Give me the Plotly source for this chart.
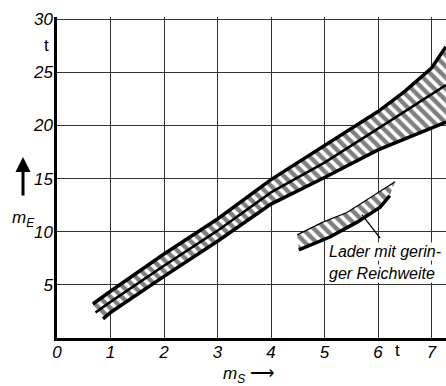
import plotly.graph_objects as go

# ---- data ----
x_ticks = [0, 1, 2, 3, 4, 5, 6, 7]
x_tick_text = ["0", "1", "2", "3", "4", "5", "6", "7"]
y_ticks = [5, 10, 15, 20, 25, 30]
y_tick_text = ["5", "10", "15", "20", "25", "30"]

upper_x = [0.67, 1.0, 2.0, 3.0, 4.0, 5.0, 6.0, 6.5, 7.0, 7.27]
upper_y = [3.2, 4.4, 7.9, 11.2, 14.9, 18.1, 21.3, 23.2, 25.4, 27.4]
middle_x = [0.72, 1.0, 2.0, 3.0, 4.0, 5.0, 6.0, 7.0, 7.27]
middle_y = [2.4, 3.4, 6.8, 10.1, 13.7, 16.5, 19.7, 22.9, 23.8]
lower_x = [0.86, 1.0, 2.0, 3.0, 4.0, 5.0, 6.0, 7.0, 7.27]
lower_y = [1.8, 2.4, 5.8, 9.1, 12.6, 15.1, 17.7, 19.7, 20.3]

small_upper_x = [4.49, 4.97, 5.42, 5.79, 6.05, 6.32]
small_upper_y = [9.7, 10.9, 11.8, 13.0, 13.8, 14.7]
small_lower_x = [4.52, 5.10, 5.61, 6.04, 6.22]
small_lower_y = [8.3, 9.5, 10.9, 12.3, 13.4]

pointer_x = [5.70, 6.04]
pointer_y = [11.6, 9.4]

label_lines = ["Lader mit gerin-", "ger Reichweite"]

FONT = "Liberation Sans, Arial, sans-serif"

hatch = dict(shape="\\", size=8, solidity=0.55, fgcolor="black", bgcolor="white")

# plot-area geometry in pixels (for placing outside labels)
L, T, PW, PH = 57, 17, 389, 321


def px(xp):
    return (xp - L) / PW


def py(yp):
    return (T + PH - yp) / PH


def it(s):
    return "<i>" + s + "</i>"


fig = go.Figure()
fig.add_trace(go.Scatter(x=lower_x, y=lower_y, mode="lines",
                         line=dict(color="black", width=3.5)))
fig.add_trace(go.Scatter(x=middle_x, y=middle_y, mode="lines", fill="tonexty",
                         fillpattern=hatch, fillcolor="white",
                         line=dict(color="black", width=2.5)))
fig.add_trace(go.Scatter(x=upper_x, y=upper_y, mode="lines", fill="tonexty",
                         fillpattern=hatch, fillcolor="white",
                         line=dict(color="black", width=3.5)))
fig.add_trace(go.Scatter(x=small_lower_x, y=small_lower_y, mode="lines",
                         line=dict(color="black", width=3.5)))
fig.add_trace(go.Scatter(x=small_upper_x, y=small_upper_y, mode="lines", fill="tonexty",
                         fillpattern=hatch, fillcolor="white",
                         line=dict(color="black", width=1.2)))
fig.add_trace(go.Scatter(x=pointer_x, y=pointer_y, mode="lines",
                         line=dict(color="black", width=1.3)))

tfont = dict(family=FONT, size=17, color="black")
annotations = [
    dict(x=5.07, y=8.1, xref="x", yref="y", text=it(label_lines[0]), showarrow=False,
         xanchor="left", yanchor="middle", bgcolor="white", borderpad=0,
         font=dict(family=FONT, size=16, color="black")),
    dict(x=5.07, y=6.1, xref="x", yref="y", text=it(label_lines[1]), showarrow=False,
         xanchor="left", yanchor="middle", bgcolor="white", borderpad=0,
         font=dict(family=FONT, size=16, color="black")),
    # units
    dict(x=px(402), y=py(351), xref="paper", yref="paper",
         yanchor="middle", text="t", showarrow=False, font=tfont),
    dict(x=px(42), y=py(45), xref="paper", yref="paper", yanchor="middle",
         text="t", showarrow=False, font=tfont),
    # x axis title
    dict(x=px(221), y=py(375), xref="paper", yref="paper", xanchor="left",
         yanchor="middle", text=it("m<sub>S</sub>") + " \u27f6", showarrow=False,
         font=tfont),
    # y axis title
    dict(x=px(10), y=py(219), xref="paper", yref="paper", xanchor="left",
         yanchor="middle", text=it("m<sub>E</sub>"), showarrow=False, font=tfont),
    # y arrow
    dict(x=px(23), y=py(157), xref="paper", yref="paper", text="", showarrow=True,
         ax=0, ay=40, arrowhead=2, arrowsize=1, arrowwidth=3, arrowcolor="black"),
]

fig.update_layout(
    width=446, height=386,
    margin=dict(l=L, r=446 - L - PW, t=T, b=386 - T - PH),
    paper_bgcolor="white", plot_bgcolor="white",
    showlegend=False,
    annotations=annotations,
    font=dict(family=FONT, color="black"),
)
fig.update_xaxes(
    range=[0, PW / 53.5], tickvals=x_ticks, ticktext=[it(t) for t in x_tick_text],
    showgrid=True, gridcolor="#333", gridwidth=1.2,
    showline=True, linecolor="black", linewidth=2.5,
    zeroline=False, ticks="", ticklabelstandoff=-3,
    tickfont=tfont,
    fixedrange=True,
)
fig.update_yaxes(
    range=[0, 30.2], tickvals=y_ticks, ticktext=[it(t) for t in y_tick_text],
    showgrid=True, gridcolor="#333", gridwidth=1.2,
    showline=True, linecolor="black", linewidth=2.5,
    zeroline=False, ticks="", ticklabelstandoff=-2,
    tickfont=tfont,
    fixedrange=True,
)

fig.write_html("out.html")
